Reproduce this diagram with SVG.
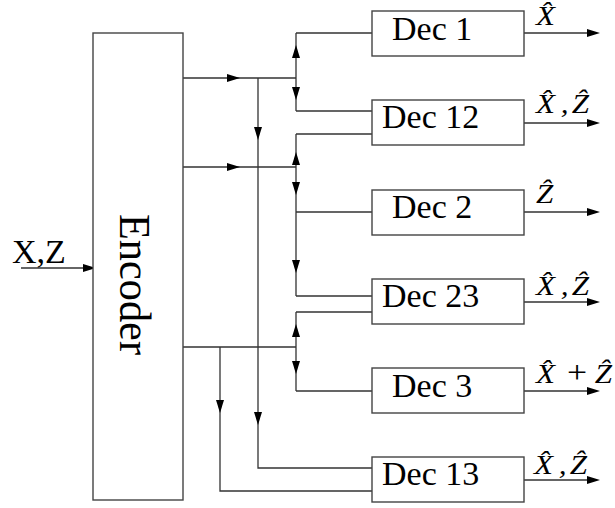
<svg xmlns="http://www.w3.org/2000/svg" xmlns:xlink="http://www.w3.org/1999/xlink" width="615" height="508" viewBox="0 0 615 508">
<style>
.box{fill:#fff;stroke:#444;stroke-width:1.4}
.ln{fill:none;stroke:#333;stroke-width:1.3}
.lbl{font-family:"Liberation Serif","DejaVu Serif",serif;font-size:34px;fill:#000}
.math{font-family:"Liberation Serif","DejaVu Serif",serif;font-style:italic;font-size:27px;fill:#000}
.op{font-style:normal;font-size:31px}
</style>
<defs>
<path id="ah" d="M0,0 L-13,-4 L-13,4 Z" fill="#000"/>
</defs>
<rect width="615" height="508" fill="#fff"/>
<g id="connectors">
<path class="ln" d="M21,268 H94"/>
<use xlink:href="#ah" href="#ah" transform="translate(96,268)"/>
<path class="ln" d="M183,78 H296 M296,33 V111 M296,33 H372 M296,111 H372"/>
<use xlink:href="#ah" href="#ah" transform="translate(240,78)"/>
<use xlink:href="#ah" href="#ah" transform="translate(296,45) rotate(-90)"/>
<use xlink:href="#ah" href="#ah" transform="translate(296,100) rotate(90)"/>
<path class="ln" d="M258,78 V468 H372"/>
<use xlink:href="#ah" href="#ah" transform="translate(258,140) rotate(90)"/>
<use xlink:href="#ah" href="#ah" transform="translate(258,425) rotate(90)"/>
<path class="ln" d="M183,167 H296 M296,134 V296 M296,134 H372 M296,212 H372 M296,296 H372"/>
<use xlink:href="#ah" href="#ah" transform="translate(240,167)"/>
<use xlink:href="#ah" href="#ah" transform="translate(296,152) rotate(-90)"/>
<use xlink:href="#ah" href="#ah" transform="translate(296,195) rotate(90)"/>
<use xlink:href="#ah" href="#ah" transform="translate(296,273) rotate(90)"/>
<path class="ln" d="M183,347 H296 M296,312 V391 M296,312 H372 M296,391 H372"/>
<use xlink:href="#ah" href="#ah" transform="translate(296,324) rotate(-90)"/>
<use xlink:href="#ah" href="#ah" transform="translate(296,374) rotate(90)"/>
<path class="ln" d="M220,347 V491 H372"/>
<use xlink:href="#ah" href="#ah" transform="translate(220,413) rotate(90)"/>
<path class="ln" d="M524,33 H590 M524,123 H590 M524,212 H590 M524,302 H590 M524,391 H590 M524,480 H590"/>
<use xlink:href="#ah" href="#ah" transform="translate(600,33)"/>
<use xlink:href="#ah" href="#ah" transform="translate(600,123)"/>
<use xlink:href="#ah" href="#ah" transform="translate(600,212)"/>
<use xlink:href="#ah" href="#ah" transform="translate(600,302)"/>
<use xlink:href="#ah" href="#ah" transform="translate(600,391)"/>
<use xlink:href="#ah" href="#ah" transform="translate(600,480)"/>
</g>
<g id="input-label">
<text class="lbl" x="12" y="263">X,Z</text>
</g>
<g id="encoder">
<rect class="box" x="93" y="33" width="90" height="467"/>
<text class="lbl" style="font-size:45px" transform="translate(120,214) rotate(90)" textLength="141" lengthAdjust="spacingAndGlyphs">Encoder</text>
</g>
<g id="dec1">
<rect class="box" x="372" y="11" width="152" height="45"/>
<text class="lbl" x="392" y="40">Dec 1</text>
</g>
<g id="dec12">
<rect class="box" x="372" y="100" width="152" height="45"/>
<text class="lbl" x="382" y="128">Dec 12</text>
</g>
<g id="dec2">
<rect class="box" x="372" y="190" width="152" height="45"/>
<text class="lbl" x="392" y="218">Dec 2</text>
</g>
<g id="dec23">
<rect class="box" x="372" y="279" width="152" height="45"/>
<text class="lbl" x="382" y="307">Dec 23</text>
</g>
<g id="dec3">
<rect class="box" x="372" y="368" width="152" height="45"/>
<text class="lbl" x="392" y="397">Dec 3</text>
</g>
<g id="dec13">
<rect class="box" x="372" y="457" width="152" height="45"/>
<text class="lbl" x="382" y="485">Dec 13</text>
</g>
<g id="output-labels">
<text class="math" transform="translate(536,25) scale(1.15,1)">X̂</text>
<text class="math" transform="translate(536,113) scale(1.15,1)"><tspan x="0">X̂</tspan><tspan x="21.5">,</tspan><tspan x="31">Ẑ</tspan></text>
<text class="math" transform="translate(536,203) scale(1.15,1)">Ẑ</text>
<text class="math" transform="translate(536,295) scale(1.15,1)"><tspan x="0">X̂</tspan><tspan x="21.5">,</tspan><tspan x="31">Ẑ</tspan></text>
<text class="math" transform="translate(536,383) scale(1.15,1)"><tspan x="0">X̂</tspan><tspan class="op" x="27">+</tspan><tspan x="51">Ẑ</tspan></text>
<text class="math" transform="translate(534,474) scale(1.15,1)"><tspan x="0">X̂</tspan><tspan x="21.5">,</tspan><tspan x="31">Ẑ</tspan></text>
</g>
</svg>
